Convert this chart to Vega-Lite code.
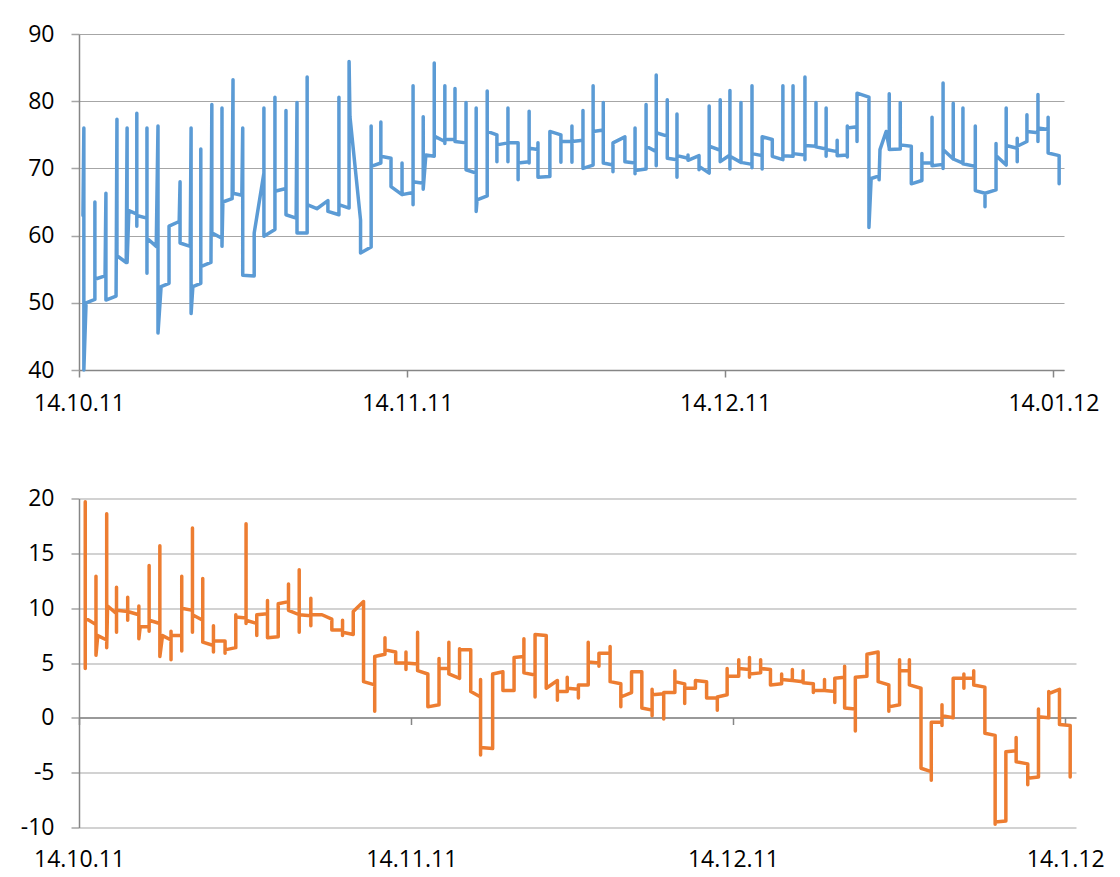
{
"$schema":"https://vega.github.io/schema/vega-lite/v6.json",
"background":"white",
"padding":{"left":13,"top":23,"right":0,"bottom":0},
"spacing":72.5,
"config":{"view":{"stroke":null},"font":"Open Sans",
"locale":{"number":{"decimal":".","thousands":",","grouping":[3],"currency":["",""],"minus":"-"}},
"axis":{"labelFont":"Open Sans","labelFontSize":23,"labelColor":"#000000","domainColor":"#868686","domainWidth":1.5,"tickColor":"#868686","tickWidth":1.5,"gridColor":"#a6a6a6","gridWidth":1.2}},
"datasets":{
"rh":[
{"date":"2011-10-14T09:00","value":63},{"date":"2011-10-14T11:00","value":76},{"date":"2011-10-14T11:00","value":40},{"date":"2011-10-14T16:00","value":50},
{"date":"2011-10-15T12:00","value":50.5},{"date":"2011-10-15T12:00","value":65},{"date":"2011-10-15T12:00","value":53.5},
{"date":"2011-10-16T11:00","value":54},{"date":"2011-10-16T13:00","value":66.3},{"date":"2011-10-16T13:00","value":50.4},
{"date":"2011-10-17T12:00","value":51},{"date":"2011-10-17T14:00","value":77.3},{"date":"2011-10-17T14:00","value":57},
{"date":"2011-10-18T11:00","value":56},{"date":"2011-10-18T13:00","value":76},{"date":"2011-10-18T13:00","value":56},{"date":"2011-10-18T17:00","value":63.7},
{"date":"2011-10-19T11:00","value":63.2},{"date":"2011-10-19T11:00","value":78.2},{"date":"2011-10-19T11:00","value":61.4},{"date":"2011-10-19T11:00","value":63},
{"date":"2011-10-20T10:00","value":62.6},{"date":"2011-10-20T10:00","value":76},{"date":"2011-10-20T10:00","value":54.4},{"date":"2011-10-20T10:00","value":59.6},
{"date":"2011-10-21T07:00","value":58.4},{"date":"2011-10-21T11:00","value":76.3},{"date":"2011-10-21T11:00","value":45.5},{"date":"2011-10-21T18:00","value":52.4},
{"date":"2011-10-22T12:00","value":52.9},{"date":"2011-10-22T12:00","value":61.4},
{"date":"2011-10-23T11:00","value":62.1},{"date":"2011-10-23T13:00","value":68},{"date":"2011-10-23T13:00","value":58.9},
{"date":"2011-10-24T12:00","value":58.4},{"date":"2011-10-24T14:00","value":76},{"date":"2011-10-24T14:00","value":48.4},{"date":"2011-10-24T18:00","value":52.4},
{"date":"2011-10-25T12:00","value":52.9},{"date":"2011-10-25T12:00","value":72.9},{"date":"2011-10-25T12:00","value":55.4},
{"date":"2011-10-26T11:00","value":56},{"date":"2011-10-26T13:00","value":79.5},{"date":"2011-10-26T13:00","value":60.4},
{"date":"2011-10-27T12:00","value":59.6},{"date":"2011-10-27T12:00","value":79},{"date":"2011-10-27T12:00","value":58.4},{"date":"2011-10-27T14:00","value":65},
{"date":"2011-10-28T11:00","value":65.5},{"date":"2011-10-28T13:00","value":83.2},{"date":"2011-10-28T13:00","value":66.3},
{"date":"2011-10-29T09:00","value":66},{"date":"2011-10-29T11:00","value":76},{"date":"2011-10-29T11:00","value":54.1},
{"date":"2011-10-30T13:00","value":54},{"date":"2011-10-30T13:00","value":60.4},
{"date":"2011-10-31T11:00","value":69.3},{"date":"2011-10-31T11:00","value":79},{"date":"2011-10-31T11:00","value":59.9},
{"date":"2011-11-01T12:00","value":60.9},{"date":"2011-11-01T12:00","value":80.6},{"date":"2011-11-01T12:00","value":66.6},
{"date":"2011-11-02T13:00","value":67},{"date":"2011-11-02T13:00","value":78.6},{"date":"2011-11-02T13:00","value":63.1},
{"date":"2011-11-03T12:00","value":62.6},{"date":"2011-11-03T14:00","value":79.8},{"date":"2011-11-03T14:00","value":60.4},
{"date":"2011-11-04T13:00","value":60.4},{"date":"2011-11-04T13:00","value":83.6},{"date":"2011-11-04T13:00","value":64.6},
{"date":"2011-11-05T11:00","value":64},
{"date":"2011-11-06T12:00","value":65.2},{"date":"2011-11-06T12:00","value":63.6},
{"date":"2011-11-07T13:00","value":63.1},{"date":"2011-11-07T13:00","value":80.6},{"date":"2011-11-07T13:00","value":64.6},
{"date":"2011-11-08T12:00","value":64.1},{"date":"2011-11-08T12:00","value":85.9},{"date":"2011-11-08T14:00","value":77.7},
{"date":"2011-11-09T14:00","value":62.3},{"date":"2011-11-09T14:00","value":57.4},
{"date":"2011-11-10T14:00","value":58.3},{"date":"2011-11-10T14:00","value":76.3},{"date":"2011-11-10T14:00","value":70.3},
{"date":"2011-11-11T12:00","value":70.8},{"date":"2011-11-11T12:00","value":76.9},{"date":"2011-11-11T12:00","value":71.8},
{"date":"2011-11-12T11:00","value":71.5},{"date":"2011-11-12T11:00","value":67.3},
{"date":"2011-11-13T12:00","value":66.1},{"date":"2011-11-13T12:00","value":70.8},{"date":"2011-11-13T12:00","value":66.1},
{"date":"2011-11-14T13:00","value":66.4},{"date":"2011-11-14T13:00","value":82.3},{"date":"2011-11-14T13:00","value":64.6},{"date":"2011-11-14T13:00","value":68},
{"date":"2011-11-15T12:00","value":67.8},{"date":"2011-11-15T12:00","value":77.7},{"date":"2011-11-15T12:00","value":66.9},{"date":"2011-11-15T18:00","value":72},
{"date":"2011-11-16T13:00","value":71.8},{"date":"2011-11-16T13:00","value":85.7},{"date":"2011-11-16T13:00","value":74.8},
{"date":"2011-11-17T13:00","value":74},{"date":"2011-11-17T13:00","value":82.3},{"date":"2011-11-17T13:00","value":73.7},{"date":"2011-11-17T13:00","value":74.3},
{"date":"2011-11-18T12:00","value":74.3},{"date":"2011-11-18T12:00","value":81.9},{"date":"2011-11-18T12:00","value":74},
{"date":"2011-11-19T13:00","value":73.8},{"date":"2011-11-19T13:00","value":79.8},{"date":"2011-11-19T13:00","value":69.8},
{"date":"2011-11-20T12:00","value":69.3},{"date":"2011-11-20T12:00","value":79},{"date":"2011-11-20T12:00","value":63.6},{"date":"2011-11-20T14:00","value":65.3},
{"date":"2011-11-21T13:00","value":65.9},{"date":"2011-11-21T13:00","value":81.5},{"date":"2011-11-21T13:00","value":75.5},
{"date":"2011-11-22T11:00","value":75},{"date":"2011-11-22T11:00","value":71},{"date":"2011-11-22T11:00","value":73.5},
{"date":"2011-11-23T12:00","value":73.8},{"date":"2011-11-23T12:00","value":79},{"date":"2011-11-23T12:00","value":71},{"date":"2011-11-23T12:00","value":73.8},
{"date":"2011-11-24T11:00","value":73.8},{"date":"2011-11-24T11:00","value":68.3},{"date":"2011-11-24T11:00","value":70.8},
{"date":"2011-11-25T12:00","value":71},{"date":"2011-11-25T12:00","value":78.5},{"date":"2011-11-25T12:00","value":70.8},{"date":"2011-11-25T12:00","value":73},
{"date":"2011-11-26T08:00","value":72.8},{"date":"2011-11-26T08:00","value":73.8},{"date":"2011-11-26T08:00","value":68.7},
{"date":"2011-11-27T11:00","value":68.8},{"date":"2011-11-27T11:00","value":75.5},
{"date":"2011-11-28T12:00","value":75},{"date":"2011-11-28T12:00","value":70.9},{"date":"2011-11-28T12:00","value":74},
{"date":"2011-11-29T13:00","value":74},{"date":"2011-11-29T13:00","value":76.3},{"date":"2011-11-29T13:00","value":70.9},{"date":"2011-11-29T13:00","value":74},
{"date":"2011-11-30T14:00","value":74.2},{"date":"2011-11-30T14:00","value":78.6},{"date":"2011-11-30T14:00","value":70},
{"date":"2011-12-01T13:00","value":70.5},{"date":"2011-12-01T13:00","value":82.3},{"date":"2011-12-01T13:00","value":75.5},
{"date":"2011-12-02T12:00","value":75.7},{"date":"2011-12-02T12:00","value":79.8},{"date":"2011-12-02T12:00","value":70.8},
{"date":"2011-12-03T10:00","value":70.5},{"date":"2011-12-03T10:00","value":69.5},{"date":"2011-12-03T10:00","value":73.8},
{"date":"2011-12-04T13:00","value":74.7},{"date":"2011-12-04T13:00","value":71},
{"date":"2011-12-05T12:00","value":70.8},{"date":"2011-12-05T12:00","value":76},{"date":"2011-12-05T12:00","value":69.2},{"date":"2011-12-05T12:00","value":69.7},
{"date":"2011-12-06T13:00","value":69.9},{"date":"2011-12-06T13:00","value":79.5},{"date":"2011-12-06T13:00","value":73.3},
{"date":"2011-12-07T12:00","value":72.5},{"date":"2011-12-07T12:00","value":83.9},{"date":"2011-12-07T12:00","value":70.4},{"date":"2011-12-07T12:00","value":75.3},
{"date":"2011-12-08T13:00","value":74.8},{"date":"2011-12-08T13:00","value":80.2},{"date":"2011-12-08T13:00","value":71.5},
{"date":"2011-12-09T11:00","value":71.3},{"date":"2011-12-09T11:00","value":78.1},{"date":"2011-12-09T11:00","value":68.7},{"date":"2011-12-09T11:00","value":71.9},
{"date":"2011-12-10T12:00","value":71.5},{"date":"2011-12-10T12:00","value":72},{"date":"2011-12-10T12:00","value":71.2},
{"date":"2011-12-11T13:00","value":71.9},{"date":"2011-12-11T13:00","value":69.8},{"date":"2011-12-11T13:00","value":70.3},
{"date":"2011-12-12T12:00","value":69.3},{"date":"2011-12-12T12:00","value":79.3},{"date":"2011-12-12T12:00","value":73.3},
{"date":"2011-12-13T13:00","value":72.7},{"date":"2011-12-13T13:00","value":80.2},{"date":"2011-12-13T13:00","value":71},
{"date":"2011-12-14T11:00","value":72},{"date":"2011-12-14T11:00","value":81.6},{"date":"2011-12-14T11:00","value":69.9},{"date":"2011-12-14T11:00","value":71.8},
{"date":"2011-12-15T12:00","value":70.9},{"date":"2011-12-15T12:00","value":79.8},{"date":"2011-12-15T12:00","value":70.9},
{"date":"2011-12-16T13:00","value":70.6},{"date":"2011-12-16T13:00","value":82.3},{"date":"2011-12-16T13:00","value":70.1},{"date":"2011-12-16T13:00","value":72.2},
{"date":"2011-12-17T12:00","value":71.9},{"date":"2011-12-17T12:00","value":69.9},{"date":"2011-12-17T12:00","value":74.7},
{"date":"2011-12-18T11:00","value":74.3},{"date":"2011-12-18T11:00","value":71.8},
{"date":"2011-12-19T11:00","value":71.3},{"date":"2011-12-19T11:00","value":82.3},{"date":"2011-12-19T11:00","value":71.9},
{"date":"2011-12-20T10:00","value":71.8},{"date":"2011-12-20T10:00","value":82.3},{"date":"2011-12-20T10:00","value":72.2},
{"date":"2011-12-21T13:00","value":72},{"date":"2011-12-21T13:00","value":83.6},{"date":"2011-12-21T13:00","value":71.3},{"date":"2011-12-21T13:00","value":73.4},
{"date":"2011-12-22T14:00","value":73.3},{"date":"2011-12-22T14:00","value":79.8},{"date":"2011-12-22T14:00","value":73.2},
{"date":"2011-12-23T13:00","value":72.9},{"date":"2011-12-23T13:00","value":79},{"date":"2011-12-23T13:00","value":71.8},{"date":"2011-12-23T13:00","value":72.8},
{"date":"2011-12-24T14:00","value":72.5},{"date":"2011-12-24T14:00","value":74.2},{"date":"2011-12-24T14:00","value":71.9},
{"date":"2011-12-25T13:00","value":72},{"date":"2011-12-25T13:00","value":76.3},{"date":"2011-12-25T13:00","value":71.7},{"date":"2011-12-25T13:00","value":76},
{"date":"2011-12-26T11:00","value":76.2},{"date":"2011-12-26T11:00","value":74},{"date":"2011-12-26T11:00","value":81.2},
{"date":"2011-12-27T14:00","value":80.6},{"date":"2011-12-27T14:00","value":61.2},{"date":"2011-12-27T19:00","value":68.5},
{"date":"2011-12-28T13:00","value":68.9},{"date":"2011-12-28T13:00","value":68.3},{"date":"2011-12-28T15:00","value":72.8},
{"date":"2011-12-29T05:00","value":75.5},{"date":"2011-12-29T12:00","value":73},{"date":"2011-12-29T12:00","value":81.1},{"date":"2011-12-29T12:00","value":72.8},
{"date":"2011-12-30T13:00","value":72.9},{"date":"2011-12-30T13:00","value":79.8},{"date":"2011-12-30T13:00","value":73.5},
{"date":"2011-12-31T14:00","value":73.3},{"date":"2011-12-31T14:00","value":67.7},
{"date":"2012-01-01T14:00","value":68.2},{"date":"2012-01-01T14:00","value":72.2},{"date":"2012-01-01T14:00","value":70.8},
{"date":"2012-01-02T13:00","value":70.8},{"date":"2012-01-02T13:00","value":77.6},{"date":"2012-01-02T13:00","value":70.4},
{"date":"2012-01-03T14:00","value":70.6},{"date":"2012-01-03T14:00","value":82.7},{"date":"2012-01-03T14:00","value":70},{"date":"2012-01-03T14:00","value":72.8},
{"date":"2012-01-04T13:00","value":71.4},{"date":"2012-01-04T13:00","value":79.7},{"date":"2012-01-04T13:00","value":71.4},
{"date":"2012-01-05T11:00","value":70.8},{"date":"2012-01-05T11:00","value":79},{"date":"2012-01-05T11:00","value":70.7},
{"date":"2012-01-06T15:00","value":70.3},{"date":"2012-01-06T15:00","value":76.3},{"date":"2012-01-06T15:00","value":66.7},
{"date":"2012-01-07T13:00","value":66.3},{"date":"2012-01-07T13:00","value":64.3},{"date":"2012-01-07T13:00","value":66.3},
{"date":"2012-01-08T14:00","value":66.8},{"date":"2012-01-08T14:00","value":73.7},{"date":"2012-01-08T14:00","value":71.9},
{"date":"2012-01-09T13:00","value":70.5},{"date":"2012-01-09T13:00","value":79},{"date":"2012-01-09T13:00","value":73.4},
{"date":"2012-01-10T14:00","value":73},{"date":"2012-01-10T14:00","value":74.5},{"date":"2012-01-10T14:00","value":71},{"date":"2012-01-10T14:00","value":73.3},
{"date":"2012-01-11T12:00","value":74},{"date":"2012-01-11T12:00","value":78},{"date":"2012-01-11T12:00","value":75.5},
{"date":"2012-01-12T13:00","value":75.3},{"date":"2012-01-12T13:00","value":81},{"date":"2012-01-12T13:00","value":74},{"date":"2012-01-12T13:00","value":76},
{"date":"2012-01-13T12:00","value":75.8},{"date":"2012-01-13T12:00","value":77.6},{"date":"2012-01-13T12:00","value":72.3},
{"date":"2012-01-14T13:00","value":71.9},{"date":"2012-01-14T13:00","value":67.7}
],
"temp":[
{"date":"2011-10-14T14:00","value":4.5},{"date":"2011-10-14T14:00","value":19.7},{"date":"2011-10-14T14:00","value":9.1},
{"date":"2011-10-15T14:00","value":8.5},{"date":"2011-10-15T14:00","value":12.9},{"date":"2011-10-15T14:00","value":5.7},{"date":"2011-10-15T18:00","value":7.5},
{"date":"2011-10-16T14:00","value":7.1},{"date":"2011-10-16T14:00","value":18.6},{"date":"2011-10-16T14:00","value":6.4},{"date":"2011-10-16T16:00","value":10.2},
{"date":"2011-10-17T12:00","value":9.5},{"date":"2011-10-17T12:00","value":11.9},{"date":"2011-10-17T12:00","value":7.8},{"date":"2011-10-17T12:00","value":9.8},
{"date":"2011-10-18T13:00","value":9.7},{"date":"2011-10-18T13:00","value":11},{"date":"2011-10-18T13:00","value":8.9},{"date":"2011-10-18T13:00","value":9.7},
{"date":"2011-10-19T14:00","value":9.4},{"date":"2011-10-19T14:00","value":10.2},{"date":"2011-10-19T14:00","value":7.2},{"date":"2011-10-19T17:00","value":8.3},
{"date":"2011-10-20T13:00","value":8.3},{"date":"2011-10-20T13:00","value":13.9},{"date":"2011-10-20T13:00","value":7.9},{"date":"2011-10-20T13:00","value":8.9},
{"date":"2011-10-21T13:00","value":8.6},{"date":"2011-10-21T13:00","value":15.7},{"date":"2011-10-21T13:00","value":5.6},{"date":"2011-10-21T19:00","value":7.5},
{"date":"2011-10-22T14:00","value":7.1},{"date":"2011-10-22T14:00","value":7.9},{"date":"2011-10-22T14:00","value":5.3},{"date":"2011-10-22T14:00","value":7.5},
{"date":"2011-10-23T14:00","value":7.5},{"date":"2011-10-23T14:00","value":12.9},{"date":"2011-10-23T14:00","value":6.1},{"date":"2011-10-23T14:00","value":10},
{"date":"2011-10-24T14:00","value":9.8},{"date":"2011-10-24T14:00","value":17.3},{"date":"2011-10-24T14:00","value":7.8},{"date":"2011-10-24T14:00","value":9.4},
{"date":"2011-10-25T13:00","value":8.9},{"date":"2011-10-25T13:00","value":12.7},{"date":"2011-10-25T13:00","value":6.9},
{"date":"2011-10-26T13:00","value":6.6},{"date":"2011-10-26T13:00","value":8.4},{"date":"2011-10-26T13:00","value":6},{"date":"2011-10-26T13:00","value":7},
{"date":"2011-10-27T15:00","value":7},{"date":"2011-10-27T15:00","value":5.9},{"date":"2011-10-27T15:00","value":6.2},
{"date":"2011-10-28T15:00","value":6.4},{"date":"2011-10-28T15:00","value":9.4},{"date":"2011-10-28T15:00","value":9.2},
{"date":"2011-10-29T14:00","value":9.1},{"date":"2011-10-29T14:00","value":17.7},{"date":"2011-10-29T14:00","value":8.6},{"date":"2011-10-29T14:00","value":8.9},
{"date":"2011-10-30T14:00","value":8.6},{"date":"2011-10-30T14:00","value":7.5},{"date":"2011-10-30T14:00","value":9.4},
{"date":"2011-10-31T14:00","value":9.5},{"date":"2011-10-31T14:00","value":10.7},{"date":"2011-10-31T14:00","value":7.3},
{"date":"2011-11-01T14:00","value":7.4},{"date":"2011-11-01T14:00","value":10.4},
{"date":"2011-11-02T13:00","value":10.6},{"date":"2011-11-02T13:00","value":12.2},{"date":"2011-11-02T13:00","value":9.8},
{"date":"2011-11-03T13:00","value":9.4},{"date":"2011-11-03T13:00","value":13.5},{"date":"2011-11-03T13:00","value":7.8},{"date":"2011-11-03T13:00","value":9.4},
{"date":"2011-11-04T15:00","value":9.3},{"date":"2011-11-04T15:00","value":10.9},{"date":"2011-11-04T15:00","value":8.4},{"date":"2011-11-04T15:00","value":9.4},
{"date":"2011-11-05T16:00","value":9.4},
{"date":"2011-11-06T14:00","value":9},{"date":"2011-11-06T14:00","value":8},
{"date":"2011-11-07T14:00","value":8},{"date":"2011-11-07T14:00","value":8.9},{"date":"2011-11-07T14:00","value":7.5},{"date":"2011-11-07T14:00","value":7.8},
{"date":"2011-11-08T14:00","value":7.6},{"date":"2011-11-08T14:00","value":9.7},
{"date":"2011-11-09T13:00","value":10.6},{"date":"2011-11-09T13:00","value":3.3},
{"date":"2011-11-10T14:00","value":3},{"date":"2011-11-10T14:00","value":0.6},{"date":"2011-11-10T14:00","value":5.6},
{"date":"2011-11-11T13:00","value":5.8},{"date":"2011-11-11T13:00","value":7.3},{"date":"2011-11-11T13:00","value":6.2},
{"date":"2011-11-12T13:00","value":6},{"date":"2011-11-12T13:00","value":5},
{"date":"2011-11-13T12:00","value":5},{"date":"2011-11-13T12:00","value":6},{"date":"2011-11-13T12:00","value":4.4},{"date":"2011-11-13T12:00","value":5},
{"date":"2011-11-14T14:00","value":4.9},{"date":"2011-11-14T14:00","value":7.8},{"date":"2011-11-14T14:00","value":4.3},
{"date":"2011-11-15T13:00","value":4},{"date":"2011-11-15T13:00","value":1},
{"date":"2011-11-16T14:00","value":1.2},{"date":"2011-11-16T14:00","value":5.4},{"date":"2011-11-16T14:00","value":4.5},
{"date":"2011-11-17T12:00","value":4.5},{"date":"2011-11-17T12:00","value":6.9},{"date":"2011-11-17T12:00","value":4},
{"date":"2011-11-18T12:00","value":3.6},{"date":"2011-11-18T12:00","value":6.3},{"date":"2011-11-18T12:00","value":6.2},
{"date":"2011-11-19T13:00","value":6.2},{"date":"2011-11-19T13:00","value":2.4},
{"date":"2011-11-20T11:00","value":1.9},{"date":"2011-11-20T11:00","value":3.5},{"date":"2011-11-20T11:00","value":-3.4},{"date":"2011-11-20T11:00","value":-2.7},
{"date":"2011-11-21T14:00","value":-2.8},{"date":"2011-11-21T14:00","value":3.9},{"date":"2011-11-21T14:00","value":4},
{"date":"2011-11-22T13:00","value":4.2},{"date":"2011-11-22T13:00","value":2.5},
{"date":"2011-11-23T14:00","value":2.5},{"date":"2011-11-23T14:00","value":5.5},
{"date":"2011-11-24T12:00","value":5.6},{"date":"2011-11-24T12:00","value":7.2},{"date":"2011-11-24T12:00","value":4.1},
{"date":"2011-11-25T13:00","value":3.9},{"date":"2011-11-25T13:00","value":1.9},{"date":"2011-11-25T13:00","value":7.6},
{"date":"2011-11-26T14:00","value":7.5},{"date":"2011-11-26T14:00","value":2.7},
{"date":"2011-11-27T15:00","value":3.4},{"date":"2011-11-27T15:00","value":1.6},{"date":"2011-11-27T15:00","value":2.4},
{"date":"2011-11-28T13:00","value":2.4},{"date":"2011-11-28T13:00","value":3.7},{"date":"2011-11-28T13:00","value":2.7},
{"date":"2011-11-29T14:00","value":2.6},{"date":"2011-11-29T14:00","value":1.8},{"date":"2011-11-29T14:00","value":3},
{"date":"2011-11-30T12:00","value":3},{"date":"2011-11-30T12:00","value":6.9},{"date":"2011-11-30T12:00","value":5.1},
{"date":"2011-12-01T12:00","value":5},{"date":"2011-12-01T12:00","value":4.7},{"date":"2011-12-01T12:00","value":5.9},
{"date":"2011-12-02T13:00","value":5.9},{"date":"2011-12-02T13:00","value":6.5},{"date":"2011-12-02T13:00","value":3.3},
{"date":"2011-12-03T13:00","value":3.1},{"date":"2011-12-03T13:00","value":1},{"date":"2011-12-03T13:00","value":1.9},
{"date":"2011-12-04T13:00","value":2.3},{"date":"2011-12-04T13:00","value":4.2},
{"date":"2011-12-05T12:00","value":4.2},{"date":"2011-12-05T12:00","value":0.9},
{"date":"2011-12-06T11:00","value":0.7},{"date":"2011-12-06T11:00","value":2.6},{"date":"2011-12-06T11:00","value":0.2},{"date":"2011-12-06T11:00","value":2.1},
{"date":"2011-12-07T13:00","value":2.2},{"date":"2011-12-07T13:00","value":-0.1},{"date":"2011-12-07T13:00","value":2.3},
{"date":"2011-12-08T14:00","value":2.3},{"date":"2011-12-08T14:00","value":4.3},{"date":"2011-12-08T14:00","value":3.3},
{"date":"2011-12-09T12:00","value":3.1},{"date":"2011-12-09T12:00","value":1.3},{"date":"2011-12-09T12:00","value":2.7},
{"date":"2011-12-10T12:00","value":2.7},{"date":"2011-12-10T12:00","value":3.4},
{"date":"2011-12-11T13:00","value":3.3},{"date":"2011-12-11T13:00","value":1.8},
{"date":"2011-12-12T13:00","value":1.8},{"date":"2011-12-12T13:00","value":0.7},{"date":"2011-12-12T13:00","value":1.9},
{"date":"2011-12-13T11:00","value":2.1},{"date":"2011-12-13T11:00","value":4.5},{"date":"2011-12-13T11:00","value":3.8},
{"date":"2011-12-14T13:00","value":3.8},{"date":"2011-12-14T13:00","value":5.3},{"date":"2011-12-14T13:00","value":4.5},
{"date":"2011-12-15T13:00","value":4.4},{"date":"2011-12-15T13:00","value":5.5},{"date":"2011-12-15T13:00","value":3.7},{"date":"2011-12-15T13:00","value":4},
{"date":"2011-12-16T14:00","value":4.1},{"date":"2011-12-16T14:00","value":5.3},{"date":"2011-12-16T14:00","value":4.5},
{"date":"2011-12-17T12:00","value":4.4},{"date":"2011-12-17T12:00","value":3},
{"date":"2011-12-18T13:00","value":3.1},{"date":"2011-12-18T13:00","value":4},{"date":"2011-12-18T13:00","value":3.5},
{"date":"2011-12-19T13:00","value":3.4},{"date":"2011-12-19T13:00","value":4.4},{"date":"2011-12-19T13:00","value":3.4},
{"date":"2011-12-20T13:00","value":3.3},{"date":"2011-12-20T13:00","value":4.3},{"date":"2011-12-20T13:00","value":3.2},
{"date":"2011-12-21T12:00","value":3.1},{"date":"2011-12-21T12:00","value":2.3},{"date":"2011-12-21T12:00","value":2.5},
{"date":"2011-12-22T13:00","value":2.5},{"date":"2011-12-22T13:00","value":3.5},{"date":"2011-12-22T13:00","value":2.5},
{"date":"2011-12-23T12:00","value":2.4},{"date":"2011-12-23T12:00","value":1.4},{"date":"2011-12-23T12:00","value":3.6},
{"date":"2011-12-24T10:00","value":3.7},{"date":"2011-12-24T10:00","value":4.7},{"date":"2011-12-24T10:00","value":0.9},
{"date":"2011-12-25T10:00","value":0.8},{"date":"2011-12-25T10:00","value":-1.2},{"date":"2011-12-25T10:00","value":3.7},
{"date":"2011-12-26T12:00","value":3.8},{"date":"2011-12-26T12:00","value":5.8},
{"date":"2011-12-27T13:00","value":6},{"date":"2011-12-27T13:00","value":3.3},
{"date":"2011-12-28T13:00","value":3},{"date":"2011-12-28T13:00","value":0.6},{"date":"2011-12-28T13:00","value":1},
{"date":"2011-12-29T13:00","value":1.2},{"date":"2011-12-29T13:00","value":5.3},{"date":"2011-12-29T13:00","value":4.3},
{"date":"2011-12-30T11:00","value":4.3},{"date":"2011-12-30T11:00","value":5.3},{"date":"2011-12-30T11:00","value":3},
{"date":"2011-12-31T13:00","value":2.7},{"date":"2011-12-31T13:00","value":-4.6},
{"date":"2012-01-01T12:00","value":-4.9},{"date":"2012-01-01T12:00","value":-5.7},{"date":"2012-01-01T12:00","value":-0.4},
{"date":"2012-01-02T12:00","value":-0.4},{"date":"2012-01-02T12:00","value":1.2},{"date":"2012-01-02T12:00","value":-0.7},{"date":"2012-01-02T12:00","value":0.2},
{"date":"2012-01-03T13:00","value":0},{"date":"2012-01-03T13:00","value":3.6},
{"date":"2012-01-04T13:00","value":3.6},{"date":"2012-01-04T13:00","value":4},{"date":"2012-01-04T13:00","value":2.7},{"date":"2012-01-04T13:00","value":3.6},
{"date":"2012-01-05T11:00","value":3.6},{"date":"2012-01-05T11:00","value":4.3},{"date":"2012-01-05T11:00","value":3},
{"date":"2012-01-06T12:00","value":2.8},{"date":"2012-01-06T12:00","value":-1.4},
{"date":"2012-01-07T11:00","value":-1.6},{"date":"2012-01-07T11:00","value":-9.7},{"date":"2012-01-07T11:00","value":-9.5},
{"date":"2012-01-08T11:00","value":-9.4},{"date":"2012-01-08T11:00","value":-3.1},
{"date":"2012-01-09T10:00","value":-3},{"date":"2012-01-09T10:00","value":-1.8},{"date":"2012-01-09T10:00","value":-4},
{"date":"2012-01-10T12:00","value":-4.2},{"date":"2012-01-10T12:00","value":-6.1},{"date":"2012-01-10T12:00","value":-5.5},
{"date":"2012-01-11T12:00","value":-5.4},{"date":"2012-01-11T12:00","value":0.8},{"date":"2012-01-11T12:00","value":0.1},
{"date":"2012-01-12T11:00","value":0},{"date":"2012-01-12T11:00","value":2.4},{"date":"2012-01-12T11:00","value":2.2},
{"date":"2012-01-13T11:00","value":2.6},{"date":"2012-01-13T11:00","value":-0.6},
{"date":"2012-01-14T11:00","value":-0.7},{"date":"2012-01-14T11:00","value":-5.4},{"date":"2012-01-14T11:00","value":-3.6}
]},
"vconcat":[
{"width":985,"height":336,"data":{"name":"rh"},
"mark":{"type":"line","color":"#5b9bd5","strokeWidth":3.5,"strokeCap":"round","strokeJoin":"round"},
"encoding":{
"x":{"field":"date","type":"temporal","scale":{"domain":[{"year":2011,"month":10,"date":14},{"year":2012,"month":1,"date":15}]},
"axis":{"title":null,"grid":false,"format":"%d.%m.%y","values":[{"year":2011,"month":10,"date":14},{"year":2011,"month":11,"date":14},{"year":2011,"month":12,"date":14},{"year":2012,"month":1,"date":14}],"tickSize":7,"labelPadding":15,"labelFlush":false,"labelOverlap":false}},
"y":{"field":"value","type":"quantitative","scale":{"domain":[40,90],"nice":false,"zero":false},
"axis":{"title":null,"values":[40,50,60,70,80,90],"tickSize":8,"tickColor":"#a6a6a6","labelPadding":17,"minExtent":66}},
"order":{"value":null}}},
{"width":997,"height":329,"data":{"name":"temp"},
"mark":{"type":"line","color":"#ed7d31","strokeWidth":3.5,"strokeCap":"round","strokeJoin":"round"},
"encoding":{
"x":{"field":"date","type":"temporal","scale":{"domain":[{"year":2011,"month":10,"date":14},{"year":2012,"month":1,"date":15}]},
"axis":{"title":null,"grid":false,"format":"%d.%-m.%y","values":[{"year":2011,"month":10,"date":14},{"year":2011,"month":11,"date":14},{"year":2011,"month":12,"date":14},{"year":2012,"month":1,"date":14}],"offset":-110,"tickSize":7,"labelPadding":124,"labelFlush":false,"labelOverlap":false}},
"y":{"field":"value","type":"quantitative","scale":{"domain":[-10,20],"nice":false,"zero":false},
"axis":{"title":null,"values":[-10,-5,0,5,10,15,20],"tickSize":8,"tickColor":"#a6a6a6","labelPadding":17,"minExtent":60}},
"order":{"value":null}}}
]}
